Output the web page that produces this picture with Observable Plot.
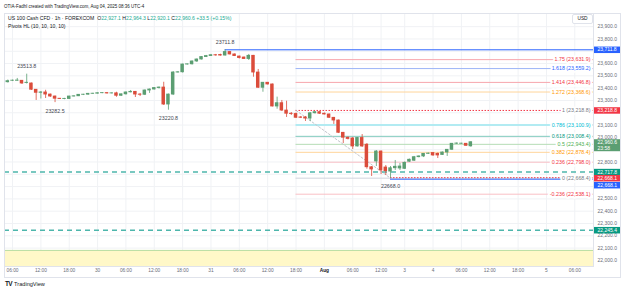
<!DOCTYPE html>
<html><head><meta charset="utf-8">
<script src="https://cdn.jsdelivr.net/npm/d3@7"></script>
<script src="https://cdn.jsdelivr.net/npm/@observablehq/plot@0.6"></script>
<style>
body{margin:0;background:#fff;font-family:"Liberation Sans",Arial,sans-serif;}
#wrap{position:relative;width:625px;height:293px;overflow:hidden;background:#fff;}
#hdr{position:absolute;left:4px;top:3.5px;font-size:4.5px;color:#131722;white-space:nowrap;}
#chart{position:absolute;left:0;top:13px;}
#legend{position:absolute;left:8px;top:14px;font-size:5.1px;color:#131722;line-height:8px;white-space:nowrap;}
#legend .v{color:#22ab94;}
#usd{position:absolute;left:572px;top:14px;width:19px;height:8px;border:1px solid #e0e3eb;border-radius:2px;font-size:4.8px;line-height:8px;text-align:center;color:#131722;background:#fff;}
#outer{position:absolute;left:4px;top:13px;width:617px;height:265px;border:1px solid #e0e3eb;box-sizing:border-box;pointer-events:none;}
#foot{position:absolute;left:5px;top:280px;font-size:5.6px;color:#131722;white-space:nowrap;}
#foot b{font-weight:900;font-size:6.5px;letter-spacing:-0.6px;margin-right:2px;}
</style></head>
<body>
<div id="wrap">
  <div id="hdr">OTIA-Fadhl created with TradingView.com, Aug 04, 2025 08:36 UTC-4</div>
  <div id="chart"></div>
  <div id="outer"></div>
  <div id="legend">US 100 Cash CFD · 1h · FOREXCOM&nbsp; O<span class="v">22,927.1</span> H<span class="v">22,964.3</span> L<span class="v">22,920.1</span> C<span class="v">22,960.6</span> <span class="v">+33.5 (+0.15%)</span><br>Pivots HL (10, 10, 10, 10)</div>
  <div id="usd">USD</div>
  <div id="foot"><b>TV</b>TradingView</div>
</div>
<script>
// ---- candle data: hourly bars (hour index from Jul 29 00:00, weekend removed) ----
const hours = d3.range(5, 104);
const open = [
  23448,23460,23460,23460,23442,23438,23387,23362,23365,23348,
  23332,23314,23312,23312,23332,23334,23346,23347,23354,23355,
  23359,23360,23357,23358,23338,23350,23366,23370,23348,23346,
  23381,23389,23401,23405,23267,23348,23527,23529,23592,23594,
  23617,23633,23653,23661,23668,23670,23665,23694,23674,23657,
  23649,23637,23663,23527,23403,23444,23430,23251,23278,23218,
  23192,23190,23162,23162,23153,23196,23205,23192,23186,23159,
  23137,23037,22997,22991,22926,22995,22940,22757,22804,22885,
  22755,22722,22749,22747,22744,22802,22810,22839,22845,22866,
  22873,22866,22857,22877,22899,22948,22948,22948,22927.1];
const high = [
  23466,23466,23479,23462,23513.8,23442,23389,23373,23383,23352,
  23336,23316,23317,23334,23338,23348,23350,23357,23358,23362,
  23363,23365,23362,23367,23353,23369,23381,23373,23357,23385,
  23393,23405,23409,23448,23352,23535,23535,23596,23596,23621,
  23637,23657,23666,23674,23674,23676,23711.8,23698,23678,23661,
  23653,23674,23666,23552,23446,23446,23434,23327,23300,23294,
  23202,23198,23170,23170,23202,23210,23210,23198,23190,23162,
  23141,23040,23003,22999,22999,23023,22950,22763,22893,22889,
  22771,22763,22812,22788,22800,22824,22845,22849,22869,22873,
  22875,22873,22881,22901,22950,22954,22952,22950,22964.3];
const low = [
  23442,23454,23456,23430,23434,23381,23300,23312,23316,23324,
  23282.5,23308,23306,23308,23328,23332,23340,23342,23350,23352,
  23355,23352,23353,23326,23332,23344,23362,23324,23332,23340,
  23357,23385,23393,23259,23220.8,23340,23523,23523,23588,23588,
  23609,23629,23649,23659,23660,23660,23661,23670,23657,23637,
  23633,23625,23489,23397,23367,23426,23247,23229,23210,23162,
  23178,23153,23153,23129,23129,23190,23186,23182,23153,23105,
  23031,22950,22979,22901,22922,22918,22741,22682,22763,22698,
  22690,22668.0,22731,22731,22739,22796,22804,22834,22836,22861,
  22845,22828,22853,22845,22893,22942,22944,22927,22920.1];
const close = [
  23457,23461,23462,23438,23444,23387,23362,23365,23348,23332,
  23314,23312,23313,23332,23334,23346,23347,23354,23355,23359,
  23360,23357,23358,23338,23350,23365,23370,23348,23346,23381,
  23389,23401,23405,23267,23348,23527,23529,23592,23594,23617,
  23633,23653,23661,23668,23666,23665,23694,23674,23661,23645,
  23637,23663,23527,23403,23444,23430,23251,23278,23218,23192,
  23190,23159,23159,23153,23196,23205,23192,23186,23159,23137,
  23037,22997,22987,22926,22995,22926,22757,22739,22885,22731,
  22725,22749,22761,22763,22793,22818,22839,22845,22866,22868,
  22853,22853,22877,22899,22948,22950,22949,22931,22960.6];

// ---- time axis ----
const xTickHours = [6,12,18,24,30,36,42,48,54,60,66,72,78,84,89,95,101,107,113,119,125];
const xTickLabels = ["06:00","12:00","18:00","30","06:00","12:00","18:00","31","06:00","12:00","18:00","Aug","06:00","12:00","3","4","06:00","12:00","18:00","5","06:00"];
// price grid every 100; labels hidden where a price tag covers them
const yTicks = d3.range(22000, 24000, 100);
const yLabelTicks = [22000,22100,22200,22300,22400,22500,22600,22800,23000,23100,23300,23400,23500,23600,23800,23900];

// ---- fibonacci retracement ----
const fibRatios = ["1.75","1.618","1.414","1.272","1","0.786","0.618","0.5","0.382","0.236","0","-0.236"];
const fibValues = [23631.9,23559.2,23446.8,23368.6,23218.8,23100.9,23008.4,22943.4,22878.4,22798.0,22668.4,22538.1];
const fibTextColors = ["#f23645","#2962ff","#f23645","#ff9800","#787b86","#00bcd4","#089981","#4caf50","#ff9800","#f23645","#787b86","#f23645"];
const fibLineColors = ["#f7a6ad","#9db5f7","#f7a6ad","#ffd59a","#f23645","#b2ebf2","#80cbbd","#b5dcb5","#ffd59a","#f9c0c5","#d1d4dc","#f9c0c5"];
const fibStartHour = 66;
const fibEndHour = 86;

// ---- pivots ----
const pivotHours = [9, 15, 39, 51, 86];
const pivotValues = [23513.8, 23282.5, 23220.8, 23711.8, 22668.0];
const pivotKinds = ["high","low","low","high","low"];

// ---- other levels ----
const pivotHighLine = 23711.8;
const pivotLowLine = 22668.1;
const dashedLevels = [22717.8, 22245.4];
const zoneTop = 22081;
const zoneBottom = 21900;

// ---- price tags on the axis ----
const tagValues = [23711.8, 23218.8, 22717.8, 22668.1, 22245.4];
const tagColors = ["#2962ff","#f23645","#089981","#f23645","#089981"];
const lastPrice = 22960.6;
const countdown = "23:58";

const fmt = d3.format(",.1f");
const candles = hours.map((t,i)=>({t, o:open[i], h:high[i], l:low[i], c:close[i], col: close[i] >= open[i] ? "#5b9e72" : "#db4c3b"}));
const xTicks = xTickHours.map((t,i)=>({t, label:xTickLabels[i]}));
const fibs = fibRatios.map((r,i)=>({r, v:fibValues[i], tc:fibTextColors[i], lc:fibLineColors[i]}));
const pivots = pivotHours.map((t,i)=>({t, v:pivotValues[i], k:pivotKinds[i]}));
const tags = tagValues.map((v,i)=>({v, col:tagColors[i]}));
const xDomain = [4.30, 128.96];
const W = 625, ML = 4, MR = 32;
const tagInset = {insetLeft: W - ML - MR + 1, insetRight: -28};

const chart = Plot.plot({
  width: W, height: 265,
  marginTop: 0, marginBottom: 12, marginLeft: ML, marginRight: MR,
  x: {type: "linear", domain: xDomain, axis: null},
  y: {domain: [21950.3, 24006.9]},
  color: {type: "identity"},
  style: {fontFamily: "Liberation Sans, Arial, sans-serif", background: "white", overflow: "visible"},
  marks: [
    Plot.ruleX(xTickHours, {stroke: "#f0f2f5", strokeWidth: 1}),
    Plot.ruleY(yTicks, {stroke: "#f0f2f5", strokeWidth: 1}),
    Plot.rect([zoneTop], {y1: d => d, y2: zoneBottom, fill: "#fff8c8", clip: true}),
    Plot.ruleY([zoneTop], {stroke: "#b7dca3", strokeWidth: 1}),
    // fib lines
    Plot.ruleY(fibs.filter(d => d.r !== "1" && d.r !== "0.786"), {y: "v", x1: fibStartHour, x2: xDomain[1], stroke: "lc", strokeWidth: 1}),
    Plot.ruleY(fibs.filter(d => d.r === "0.786"), {y: "v", x1: fibStartHour, x2: xDomain[1], stroke: "lc", strokeWidth: 2}),
    Plot.ruleY(fibs.filter(d => d.r === "1"), {y: "v", x1: fibStartHour, x2: xDomain[1], stroke: "lc", strokeWidth: 1, strokeDasharray: "1.5,1.5"}),
    Plot.line([{t: fibStartHour, v: fibValues[4]}, {t: fibEndHour, v: fibValues[10]}], {x: "t", y: "v", stroke: "#c3c5cc", strokeWidth: 1, strokeDasharray: "2,2"}),
    // pivot lines
    Plot.ruleY([pivotHighLine], {x1: pivotHours[3], x2: xDomain[1], stroke: "#2962ff", strokeWidth: 1}),
    Plot.ruleY([pivotLowLine], {x1: pivotHours[4], x2: xDomain[1], stroke: "#f23645", strokeWidth: 1, strokeDasharray: "1.5,1.5", dy: -0.5}),
    Plot.ruleY([pivotLowLine], {x1: pivotHours[4], x2: xDomain[1], stroke: "#2962ff", strokeWidth: 1, dy: 1}),
    Plot.ruleY(dashedLevels, {stroke: "#4db6ac", strokeWidth: 1.5, strokeDasharray: "5,4"}),
    // candles
    Plot.ruleX(candles, {x: "t", y1: "l", y2: "h", stroke: "col", strokeWidth: 0.8}),
    Plot.rect(candles, {x1: d => d.t - 0.37, x2: d => d.t + 0.37, y1: "o", y2: "c", fill: "col", insetTop: -0.4, insetBottom: -0.4}),
    // fib labels
    Plot.text(fibs, {y: "v", text: d => `${d.r} (${fmt(d.v)})`, frameAnchor: "right", dx: -3, textAnchor: "end", fill: "tc", stroke: "white", strokeWidth: 4, fontSize: 5.3}),
    // pivot labels
    Plot.text(pivots.filter(d => d.k === "high"), {x: "t", y: "v", text: d => d.v.toFixed(1), dy: -8, fill: "#434651", fontSize: 5.3}),
    Plot.text(pivots.filter(d => d.k === "low"), {x: "t", y: "v", text: d => d.v.toFixed(1), dy: 8.5, fill: "#434651", fontSize: 5.3}),
    // axes
    Plot.axisY(yLabelTicks, {anchor: "right", tickSize: 0, tickPadding: 4, tickFormat: fmt, fontSize: 5, color: "#6a6d78", label: null}),
    Plot.text(xTicks.filter(d => d.label !== "Aug"), {x: "t", text: "label", frameAnchor: "bottom", dy: 5.5, fontSize: 4.8, fill: "#6a6d78"}),
    Plot.text(xTicks.filter(d => d.label === "Aug"), {x: "t", text: "label", frameAnchor: "bottom", dy: 5.5, fontSize: 4.8, fill: "#131722", fontWeight: "bold"}),
    Plot.frame({stroke: "#e0e3eb"}),
    // price tags
    Plot.ruleY(tags, {y: "v", stroke: "col", strokeWidth: 6.5, ...tagInset}),
    Plot.text(tags, {y: "v", text: d => fmt(d.v), frameAnchor: "right", dx: 4, textAnchor: "start", fill: "white", fontSize: 5}),
    Plot.ruleY([pivotLowLine], {stroke: "#2962ff", strokeWidth: 6.5, dy: 7, ...tagInset}),
    Plot.text([pivotLowLine], {y: d => d, text: d => fmt(d), frameAnchor: "right", dx: 4, dy: 7, textAnchor: "start", fill: "white", fontSize: 5}),
    Plot.ruleY([lastPrice], {stroke: "#5b9e72", strokeWidth: 12, dy: 3, ...tagInset}),
    Plot.text([lastPrice], {y: d => d, text: d => fmt(d) + "\n" + countdown, frameAnchor: "right", dx: 4, dy: 3, lineHeight: 1.2, textAnchor: "start", fill: "white", fontSize: 5})
  ]
});
document.getElementById("chart").appendChild(chart);
</script>
</body></html>
